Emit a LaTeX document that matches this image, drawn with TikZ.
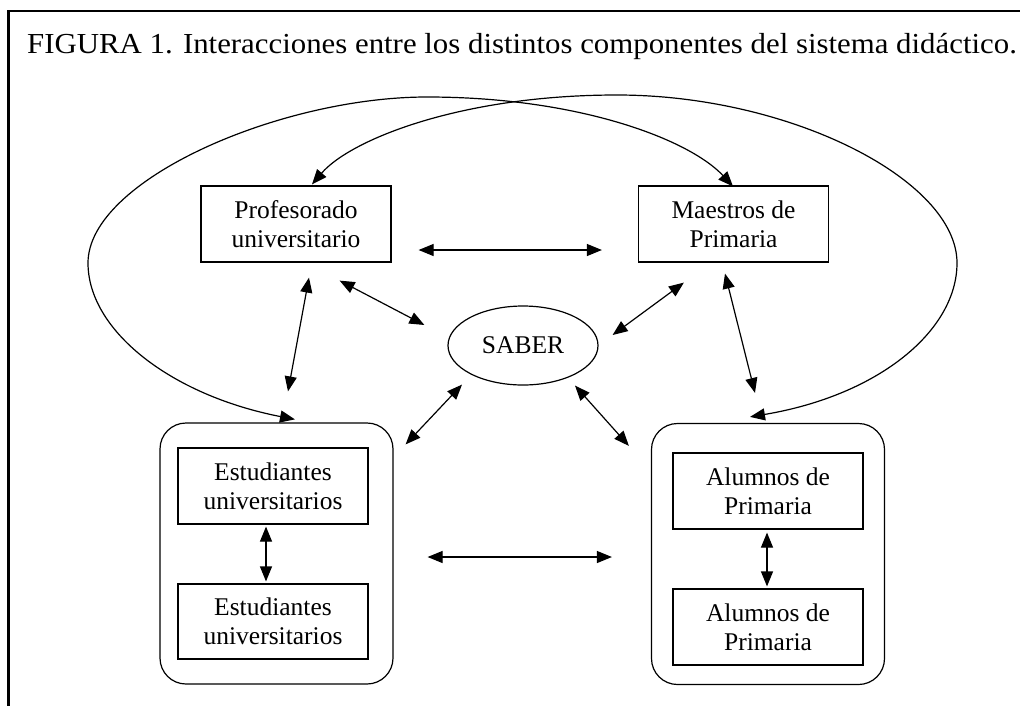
\documentclass[tikz,border=0pt]{standalone}
\usepackage{fontspec}
\setmainfont{Liberation Serif}
\usetikzlibrary{arrows.meta,calc,shapes.geometric}
\begin{document}
\begin{tikzpicture}[x=1pt,y=-1pt,
  box/.style={draw,line width=1.2pt,minimum width=190pt,minimum height=76pt,align=center,inner sep=0pt,font=\fontsize{25.5}{29}\selectfont},
  container/.style={draw,line width=1.2pt,rounded corners=26pt,minimum width=233pt,minimum height=261pt,inner sep=0pt},
  oval/.style={draw,ellipse,line width=1.2pt,minimum width=150pt,minimum height=79pt,inner sep=0pt,font=\fontsize{25.5}{29}\selectfont},
  link/.style={line width=1.2pt,{Triangle[length=15pt,width=12pt]}-{Triangle[length=15pt,width=12pt]}},
  loop/.style={line width=1.2pt,{Triangle[length=15pt,width=12pt]}-{Triangle[length=15pt,width=12pt]}},
  frame/.style={line width=2.4pt}]
\useasboundingbox (0,0) rectangle (1020,705);
\fill[white] (0,0) rectangle (1020,705);
\coordinate (ftr) at (1022,11);
\coordinate (fc) at (8.5,11);
\coordinate (fbl) at (8.5,707);
\draw[frame] (ftr) -- (fc) -- (fbl);
\node[anchor=base west,inner sep=0pt,font=\fontsize{29}{34}\selectfont] (title) at (27,53)
  {\scalebox{1.063}[1]{FIGURA 1. Interacciones entre los distintos componentes del sistema didáctico.}};
% containers
\node[container] (estc) at (276.5,553.5) {};
\node[container] (aluc) at (768,554) {};
% boxes
\node[box] (prof) at (296,224) {Profesorado\\universitario};
\node[box] (maes) at (733.5,224) {Maestros de\\Primaria};
\node[oval] (saber) at (523,345.5) {SABER};
\node[box] (est1) at (273,486) {Estudiantes\\universitarios};
\node[box,minimum height=75pt] (est2) at (273,621.5) {Estudiantes\\universitarios};
\node[box] (alu1) at (768,491) {Alumnos de\\Primaria};
\node[box] (alu2) at (768,627) {Alumnos de\\Primaria};
% straight connectors
\draw[link] ($(prof.east)+(27,26)$) -- ($(maes.west)+(-36,26)$);
\draw[link] ($(prof.south east)+(-52,18)$) -- ($(saber.west)+(-23,-20.5)$);
\draw[link] ($(maes.south west)+(46,20)$) -- ($(saber.east)+(14,-10.5)$);
\draw[link] ($(prof.south)+(13,15)$) -- ($(estc.north)+(11.5,-31)$);
\draw[link] ($(maes.south)+(-8.5,11)$) -- ($(aluc.north)+(-13,-30)$);
\draw[link] ($(saber.south)+(-61,-1)$) -- ($(estc.north east)+(12,22)$);
\draw[link] ($(saber.south)+(52,0)$) -- ($(aluc.north west)+(-22,23)$);
\draw[link] ($(estc.east)+(34,3.5)$) -- ($(aluc.west)+(-39,3)$);
\draw[link] ($(est1.south)+(-7,2)$) -- ($(est2.north)+(-7,-2)$);
\draw[link] ($(alu1.south)+(-1,3)$) -- ($(alu2.north)+(-1,-2)$);
% big loops
\draw[loop] ($(estc.north)+(18.5,-3)$) .. controls (170,395) and (88,330) .. (88,263)
  .. controls (88,180) and (280,97) .. (427,97)
  .. controls (580,97) and (690,140) .. ($(maes.north)+(-0.5,1)$);
\draw[loop] ($(aluc.north)+(-18,-6)$) .. controls (880,395) and (957,330) .. (957,263)
  .. controls (957,180) and (790,95) .. (617,95)
  .. controls (460,95) and (350,140) .. ($(prof.north)+(16,-1)$);
\end{tikzpicture}
\end{document}
